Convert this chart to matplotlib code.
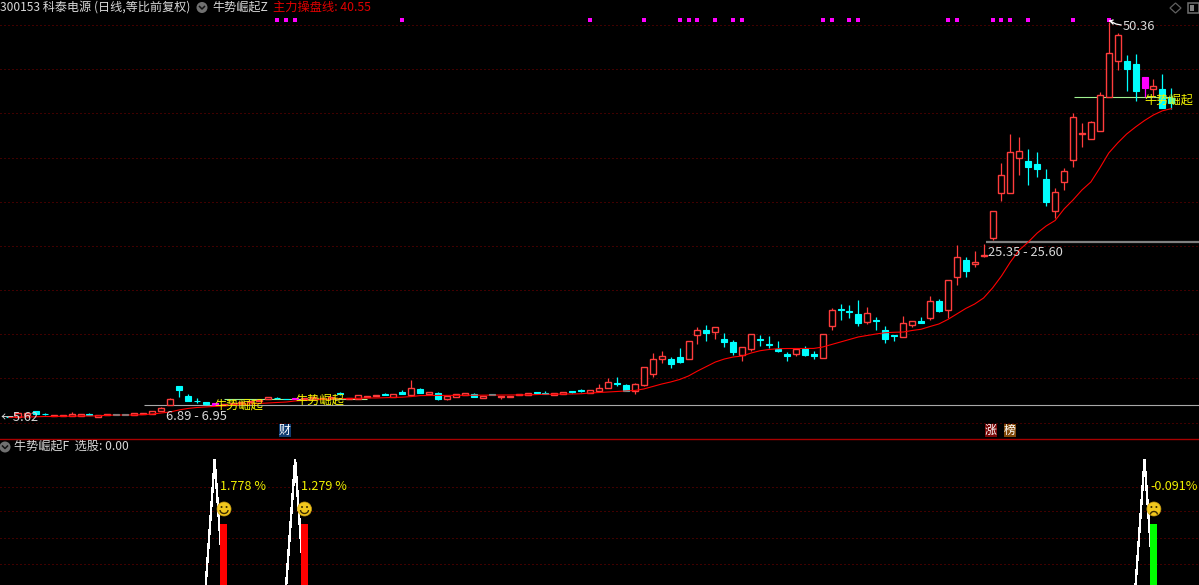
import matplotlib
matplotlib.use("Agg")
import matplotlib.pyplot as plt
from matplotlib.patches import Circle, Rectangle, Arc, Polygon

plt.rcParams['font.family'] = ['Noto Sans CJK SC', 'DejaVu Sans']

opens = [5.68,5.59,5.89,6.30,5.97,5.74,5.71,5.71,5.74,6.00,
5.66,5.82,5.96,5.96,5.82,6.00,5.96,6.34,6.95,9.10,
8.00,7.47,7.29,7.18,7.00,7.10,7.16,7.32,7.44,7.66,
7.78,7.70,7.74,7.66,7.72,7.72,7.78,8.33,7.70,7.70,
7.92,8.00,8.20,7.89,8.49,8.12,8.76,8.27,8.31,7.70,
7.92,8.08,8.20,7.81,8.20,7.92,7.92,8.08,8.08,8.42,
8.31,8.08,8.20,8.54,8.68,8.38,8.60,8.94,9.44,9.21,
8.57,9.28,10.53,12.23,12.16,12.39,12.23,14.95,15.44,15.29,
14.42,14.08,12.61,13.36,14.42,13.93,13.33,12.73,12.73,13.29,
12.73,12.34,15.90,17.89,17.59,17.29,16.42,16.64,15.44,14.91,
14.72,16.08,16.50,16.87,18.73,17.71,21.45,23.37,22.99,23.86,
25.93,30.96,31.03,35.00,34.62,34.28,32.54,29.00,32.27,34.76,
37.71,37.11,38.01,41.90,45.98,45.94,45.60,44.13,42.80,42.77,
41.72]
closes = [5.63,6.04,6.11,5.96,5.95,5.80,5.82,5.96,5.96,5.89,
5.82,5.93,5.89,5.89,6.04,6.08,6.27,6.64,7.63,8.68,
7.40,7.40,7.13,7.02,7.10,7.21,7.27,7.44,7.55,7.86,
7.74,7.66,7.63,7.78,7.89,7.78,7.89,8.27,7.78,8.08,
8.00,8.08,8.12,8.23,8.27,8.87,8.34,8.42,7.66,7.97,
8.20,8.31,7.92,8.04,8.12,8.04,8.04,8.20,8.31,8.38,
8.23,8.31,8.42,8.49,8.60,8.65,8.87,9.55,9.36,8.60,
9.33,11.25,12.16,12.50,11.66,11.85,14.20,15.44,15.17,15.78,
14.12,12.99,13.52,14.99,14.31,13.78,13.10,12.53,13.36,12.68,
12.50,14.99,17.71,17.78,17.52,16.27,17.37,16.53,14.46,14.83,
16.24,16.46,16.27,18.73,17.63,21.11,23.71,22.19,23.14,24.01,
28.92,33.00,35.60,35.72,33.97,33.71,30.01,31.07,33.45,39.57,
37.79,39.00,42.06,46.81,48.89,45.04,42.54,42.88,43.08,40.62,
41.15]
highs = [5.68,6.04,6.11,6.30,6.04,5.80,5.82,6.19,5.96,6.11,
5.82,5.93,5.96,5.96,6.04,6.08,6.27,6.79,7.78,9.10,
8.23,7.74,7.29,7.18,7.10,7.21,7.27,7.44,7.55,7.86,
7.86,7.70,7.74,7.78,7.89,7.78,7.89,8.45,7.78,8.08,
8.00,8.08,8.34,8.23,8.68,9.81,8.91,8.42,8.46,7.97,
8.20,8.31,8.34,8.04,8.20,8.04,8.04,8.20,8.31,8.42,
8.54,8.31,8.42,8.54,8.83,8.65,9.36,10.04,10.16,9.33,
9.48,11.25,12.84,13.10,12.39,13.44,14.20,15.82,16.04,15.78,
15.14,14.31,13.52,14.99,14.88,14.80,14.23,12.99,13.36,13.67,
13.10,14.99,17.94,18.42,18.31,18.87,18.05,16.95,15.93,14.91,
17.06,16.46,16.95,19.33,19.00,21.11,25.07,23.75,24.46,25.22,
28.92,34.42,37.67,37.30,35.98,35.64,33.68,31.53,33.82,40.09,
38.92,39.15,42.43,50.36,49.15,46.62,46.73,44.13,43.90,44.47,
42.85]
lows = [5.62,5.59,5.89,5.96,5.82,5.74,5.71,5.71,5.74,5.82,
5.66,5.82,5.89,5.89,5.82,6.00,5.96,6.34,6.95,7.92,
7.40,7.25,7.02,7.02,7.00,7.10,7.16,7.32,7.44,7.66,
7.66,7.66,7.63,7.66,7.72,7.72,7.78,8.15,7.70,7.70,
7.92,8.00,8.12,7.89,8.27,8.12,8.34,8.27,7.55,7.58,
7.92,8.08,7.92,7.81,8.12,7.70,7.92,8.08,8.08,8.38,
8.23,8.08,8.20,8.34,8.49,8.38,8.60,8.94,9.14,8.60,
8.27,9.17,10.16,11.77,11.17,11.74,12.23,13.89,14.23,14.46,
13.55,12.68,11.97,13.07,13.67,13.44,12.99,11.97,12.53,12.50,
12.23,12.34,15.48,16.61,16.87,15.93,16.16,15.48,14.00,14.23,
14.72,15.82,16.27,16.61,17.55,16.80,20.57,21.51,22.65,23.78,
25.67,30.09,31.03,33.03,31.93,32.84,29.55,28.20,31.33,33.97,
36.20,37.11,38.01,41.90,44.92,42.54,41.41,41.83,41.86,40.62,
40.51]
ma_line = [5.57,5.62,5.62,5.65,5.68,5.68,5.71,5.71,5.74,5.74,
5.76,5.82,5.85,5.85,5.85,5.89,5.96,6.08,6.19,6.42,
6.59,6.70,6.76,6.81,6.87,6.95,7.04,7.10,7.15,7.21,
7.27,7.32,7.44,7.49,7.55,7.61,7.66,7.70,7.72,7.74,
7.78,7.78,7.81,7.83,7.87,7.94,8.05,8.06,8.07,8.08,
8.08,8.08,8.09,8.10,8.12,8.12,8.12,8.12,8.13,8.16,
8.20,8.20,8.23,8.23,8.26,8.34,8.40,8.46,8.51,8.57,
8.63,8.80,9.08,9.36,9.59,9.87,10.27,10.83,11.34,11.85,
12.19,12.42,12.53,12.87,13.13,13.27,13.36,13.38,13.38,13.38,
13.39,13.55,13.84,14.12,14.40,14.69,14.86,15.03,15.17,15.22,
15.25,15.42,15.56,15.87,16.16,16.67,17.29,17.91,18.42,19.10,
20.23,21.59,23.18,24.54,25.44,26.46,27.26,27.88,29.18,30.20,
31.33,32.24,33.82,35.52,36.66,37.67,38.47,39.20,39.83,40.30,
40.55]
assert len(opens) == len(closes) == len(highs) == len(lows) == len(ma_line) == 131

price_grid = [5, 10, 15, 20, 25, 30, 35, 40, 45, 50]
signal_days = [23, 32, 127]
signal_heights = [48.8, 48.8, 48.8]
signal_colors = ['#ff0000', '#ff0000', '#00ff00']
signal_pct = ['1.778 %', '1.279 %', '-0.091%']
mark_days = [30, 31, 32, 44, 65, 71, 75, 76, 77, 79, 81, 82, 91, 92, 94, 95,
             105, 106, 110, 111, 112, 114, 119, 123]
zone_start = [15.1, 24.1, 109.3, 119.1]
zone_end = [134, 40, 134, 130.1]
zone_price = [6.95, 7.63, 25.44, 41.83]
zone_color = ['#a8a8a8', '#a0f090', '#808080', '#a0f090']
zone_width = [1, 1, 2, 1]
lower_grid = [78.6, 59, 38, 17]

UP, DOWN, MAG = '#ff3c3c', '#00ffff', '#ff00ff'
BG = '#000000'
GRID = '#800000'
W, H = 1199, 585

fig = plt.figure(figsize=(W / 100, H / 100), dpi=100, facecolor=BG)
ax = fig.add_axes([0, 147 / H, 1, 438 / H], facecolor=BG)
low = fig.add_axes([0, 0, 1, 146 / H], facecolor=BG)
over = fig.add_axes([0, 0, 1, 1], facecolor='none')
for a in (ax, low, over):
    a.set_axis_off()

x0, step = 9.0, 8.941
xlim = (-x0 / step, (W - x0) / step)
ax.set_xlim(*xlim)
low.set_xlim(*xlim)
ax.set_ylim(52.85 - 0.11325 * 438, 52.85)
low.set_ylim(0, 116.8)
over.set_xlim(0, W)
over.set_ylim(H, 0)

dots = (0, (1, 3))
for p in price_grid:
    ax.axhline(p, color=GRID, lw=0.72, ls=dots, zorder=1)
for v in lower_grid:
    low.axhline(v, color=GRID, lw=0.72, ls=dots, zorder=1)

for s, e, p, c, w in zip(zone_start, zone_end, zone_price, zone_color, zone_width):
    ax.plot([s, e], [p, p], color=c, lw=w * 0.8, solid_capstyle='butt', zorder=2)

bw = 6 / step
for i, (o, c, h, l) in enumerate(zip(opens, closes, highs, lows)):
    col = UP if c >= o else DOWN
    if i in signal_days:
        col = MAG
    ax.vlines(i, l, h, color=col, lw=0.9, zorder=3)
    hollow = col == UP
    ax.add_patch(Rectangle((i - bw / 2, min(o, c)), bw, max(abs(c - o), 0.03),
                           facecolor=BG if hollow else col, edgecolor=col,
                           lw=1.0 if hollow else 0.8, zorder=4))

ax.plot(range(len(ma_line)), ma_line, color='#ff0000', lw=0.8, zorder=5)
for d in mark_days:
    ax.plot(d, 50.55, marker='s', ms=2.6, color=MAG, mew=0, zorder=6)

# lower pane
for d, hgt, col, pct in zip(signal_days, signal_heights, signal_colors, signal_pct):
    low.plot([d - 1, d, d + 1], [0, 100, 0], color='#ffffff', lw=1.0, zorder=3, antialiased=False)
    low.bar(d + 1, hgt, width=7 / step, color=col, zorder=4)
    px = x0 + step * d
    over.text(px + 5.5, 486, pct, color='#f0f000', fontsize=9.1, va='center', ha='left')
    over.add_patch(Circle((px + 9.4, 509), 7, fc='#f2c81e', ec='#c89a10', lw=0.5))
    over.add_patch(Circle((px + 6.9, 507), 1, fc='#3a2a00', ec='none'))
    over.add_patch(Circle((px + 11.9, 507), 1, fc='#3a2a00', ec='none'))
    if pct.startswith('-'):
        over.add_patch(Arc((px + 9.4, 514.5), 7, 6, theta1=180, theta2=360, color='#3a2a00', lw=1))
    else:
        over.add_patch(Arc((px + 9.4, 510), 8, 7, theta1=0, theta2=180, color='#3a2a00', lw=1))

# header texts
TXT = '#d8d8d8'
over.text(0, 7, '300153 科泰电源 (日线,等比前复权)', color=TXT, fontsize=8.7, va='center', ha='left')
over.text(212, 7, '牛势崛起Z', color=TXT, fontsize=8.7, va='center', ha='left')
over.text(273, 7, '主力操盘线: 40.55', color='#e00000', fontsize=8.8, va='center', ha='left')
over.text(14, 446.5, '牛势崛起F  选股: 0.00', color=TXT, fontsize=8.7, va='center', ha='left')
for cx, cy in [(202, 7.5), (5, 447)]:
    over.add_patch(Circle((cx, cy), 5.5, fc='#707070', ec='none'))
    over.plot([cx - 2.5, cx, cx + 2.5], [cy - 1, cy + 1.5, cy - 1], color='#111111', lw=1.1)

# price annotations
over.text(1, 417.5, '←5.62', color=TXT, fontsize=9.3, va='center', ha='left', zorder=8)
over.text(166, 416, '6.89 - 6.95', color=TXT, fontsize=9.3, va='center', ha='left')
over.text(988, 253, '25.35 - 25.60', color=TXT, fontsize=9.3, va='center', ha='left')
over.text(1123, 27, '50.36', color=TXT, fontsize=9.3, va='center', ha='left')
over.plot([1110, 1114, 1116, 1121], [21, 23, 24, 25], color='#ffffff', lw=0.9)
over.plot([1110, 1113], [21, 20], color='#ffffff', lw=0.9)
over.plot([1110, 1113], [21, 24], color='#ffffff', lw=0.9)
for tx, ty in [(214, 405), (295, 400), (1144, 100)]:
    over.text(tx, ty, '牛势崛起', color='#f4f400', fontsize=8.8, va='center', ha='left', zorder=8)

# event tags and pane border
for cx, s, col in [(285, '财', '#103c70'), (991, '涨', '#7a0808'), (1009.5, '榜', '#804808')]:
    over.add_patch(Rectangle((cx - 6, 424), 12, 13, fc=col, ec='none'))
    over.text(cx, 430.5, s, color='#ffffff', fontsize=8.6, va='center', ha='center')
over.plot([0, W], [438.5, 438.5], color='#a80000', lw=1.0)

# top-right icons
over.add_patch(Polygon([(1175.5, 3), (1181, 8), (1175.5, 13), (1170, 8)], fc='none', ec='#606060', lw=0.9))
over.add_patch(Rectangle((1188, 3), 11, 10, fc='none', ec='#707070', lw=1.1))
over.add_patch(Rectangle((1190, 5), 4, 6, fc='#808080', ec='none'))

fig.savefig('out.png', dpi=100, facecolor=BG)
